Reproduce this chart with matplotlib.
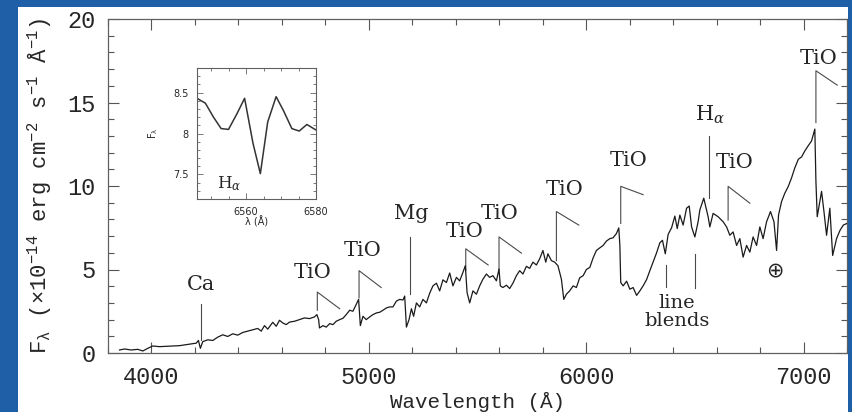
import matplotlib
matplotlib.use("Agg")
import matplotlib.pyplot as plt
from matplotlib.patches import Rectangle
from matplotlib.ticker import MultipleLocator, FuncFormatter

plt.rcParams.update({
    "mathtext.fontset": "custom",
    "mathtext.rm": "Liberation Mono",
    "mathtext.it": "DejaVu Serif:italic",
    "mathtext.sf": "DejaVu Sans",
    "mathtext.default": "regular",
})

# ---------------------------------------------------------------- spectrum
wavelength = [
    3853, 3876, 3907, 3937, 3960, 3983, 4006, 4037, 4068, 4098, 4129, 4160,
    4183, 4206, 4216, 4225, 4236, 4259, 4282, 4305, 4328, 4351, 4374, 4397,
    4420, 4443, 4466, 4489, 4505, 4520, 4535, 4558, 4574, 4589, 4604, 4620,
    4635, 4658, 4681, 4704, 4727, 4750, 4761, 4769, 4773, 4789, 4804, 4820,
    4835, 4850, 4866, 4881, 4896, 4912, 4927, 4942, 4953, 4961, 4973, 4988,
    5004, 5019, 5035, 5050, 5065, 5081, 5096, 5111, 5127, 5142, 5157, 5165,
    5173, 5185, 5196, 5206, 5219, 5234, 5249, 5265, 5280, 5295, 5311, 5326,
    5341, 5357, 5372, 5387, 5403, 5418, 5433, 5444, 5452, 5464, 5479, 5495,
    5510, 5525, 5541, 5556, 5571, 5587, 5599, 5605, 5617, 5633, 5648, 5663,
    5679, 5694, 5709, 5725, 5740, 5755, 5771, 5786, 5801, 5814, 5824, 5840,
    5855, 5870, 5886, 5897, 5909, 5924, 5940, 5955, 5970, 5986, 6001, 6017,
    6032, 6047, 6063, 6078, 6093, 6109, 6124, 6139, 6150, 6155, 6159, 6170,
    6186, 6201, 6216, 6232, 6247, 6262, 6278, 6293, 6308, 6324, 6339, 6351,
    6364, 6377, 6393, 6408, 6419, 6431, 6446, 6462, 6474, 6485, 6500, 6515,
    6523, 6541, 6561, 6569, 6584, 6607, 6630, 6646, 6661, 6676, 6692, 6707,
    6722, 6738, 6753, 6768, 6784, 6799, 6814, 6830, 6848, 6864, 6876, 6885,
    6899, 6914, 6930, 6945, 6960, 6976, 6991, 7006, 7021, 7037, 7052, 7057,
    7063, 7083, 7094, 7106, 7121, 7134, 7152, 7168, 7183, 7200,
]
flux = [
    0.18, 0.24, 0.18, 0.22, 0.12, 0.28, 0.42, 0.38, 0.40, 0.42, 0.44, 0.50,
    0.55, 0.59, 0.75, 0.28, 0.68, 0.79, 0.75, 0.95, 1.09, 0.99, 1.15, 1.07,
    1.23, 1.31, 1.39, 1.47, 1.31, 1.64, 1.43, 1.84, 1.60, 1.96, 1.80, 1.70,
    1.85, 1.90, 2.00, 2.10, 2.06, 2.16, 2.30, 2.00, 1.50, 1.64, 1.55, 1.76,
    1.70, 1.90, 2.00, 2.08, 2.30, 2.56, 2.50, 2.91, 3.21, 1.64, 2.20, 2.00,
    2.16, 2.30, 2.40, 2.44, 2.56, 2.70, 2.76, 2.76, 3.11, 3.21, 3.17, 3.41,
    1.55, 2.00, 2.65, 2.20, 3.00, 2.76, 3.21, 3.00, 3.58, 4.02, 4.18, 3.72,
    4.38, 4.22, 4.79, 4.02, 4.53, 4.32, 4.83, 5.23, 3.62, 3.00, 3.72, 3.52,
    4.02, 4.42, 4.73, 4.53, 4.63, 4.32, 5.03, 4.02, 3.92, 4.06, 3.86, 4.18,
    4.63, 4.93, 4.73, 5.19, 5.07, 5.44, 5.27, 5.64, 6.14, 5.44, 5.94, 5.53,
    5.44, 5.23, 4.42, 3.21, 3.52, 3.72, 4.02, 3.92, 4.50, 4.63, 5.00, 5.13,
    5.70, 6.14, 6.30, 6.44, 6.70, 6.85, 6.90, 7.15, 7.49, 6.44, 4.22, 4.02,
    4.30, 3.82, 3.92, 3.45, 3.72, 4.02, 4.40, 4.93, 5.44, 6.00, 6.60, 6.75,
    5.94, 7.10, 7.50, 8.20, 7.45, 8.26, 7.66, 8.67, 8.80, 7.55, 6.95, 7.86,
    8.57, 9.27, 8.16, 7.55, 8.36, 8.16, 7.86, 7.55, 7.05, 7.25, 6.44, 6.85,
    5.74, 6.44, 6.04, 6.95, 6.44, 7.55, 6.85, 7.86, 8.47, 7.86, 6.14, 8.26,
    9.07, 9.57, 9.98, 10.49, 11.09, 11.60, 11.74, 12.10, 12.40, 12.70, 13.41, 10.28,
    8.16, 9.68, 8.47, 7.05, 8.67, 5.84, 6.85, 7.35, 7.66, 7.76,
]

# ------------------------------------------------------- H-alpha close-up
inset_wavelength = [6546.0, 6548.4, 6550.7, 6552.9, 6555.0, 6557.4, 6559.6, 6562.0,
                    6564.1, 6566.2, 6568.6, 6570.7, 6573.1, 6575.2, 6577.4, 6580.1]
inset_flux = [8.43, 8.37, 8.20, 8.06, 8.05, 8.24, 8.43, 7.88,
              7.51, 8.14, 8.45, 8.28, 8.06, 8.03, 8.11, 8.04]

# ------------------------------------------------------------ line labels
# TiO band heads: (head wavelength, line bottom, line top, slope end wavelength,
#                  slope end flux, label wavelength, label flux)
tio_heads = [
    (4763, 2.56, 3.65, 4866, 2.65, 4743, 4.80),
    (4955, 3.30, 4.93, 5057, 3.92, 4970, 6.14),
    (5446, 4.93, 6.24, 5549, 5.27, 5441, 7.25),
    (5599, 4.99, 6.95, 5702, 5.98, 5602, 8.36),
    (5863, 5.53, 8.47, 5966, 7.66, 5902, 9.78),
    (6159, 7.76, 9.98, 6262, 9.48, 6193, 11.50),
    (6653, 7.96, 9.98, 6753, 8.97, 6684, 11.40),
    (7057, 13.80, 16.90, 7155, 16.04, 7068, 17.65),
]
# Atomic lines: (label, wavelength, line bottom, line top, label wavelength, label flux)
atomic_lines = [
    ("Ca", 4226, 0.79, 2.95, 4228, 4.12),
    ("Mg", 5191, 3.52, 6.95, 5195, 8.35),
    (r"H$_{\mathit{\alpha}}$", 6564, 9.30, 13.00, 6569, 14.25),
]
# Blended features: (wavelength, bottom, top)
blend_marks = [(6367, 3.98, 5.27), (6501, 3.92, 5.94)]
blend_label = (6418, 2.45)
telluric_mark = (6866, 4.95)

# ------------------------------------------------------------------ figure
W, H = 852, 412
fig = plt.figure(figsize=(W / 100, H / 100), dpi=100, facecolor="#1f5fa8")
fig.patches.append(Rectangle((18 / W, 0), 830 / W, 405 / H, transform=fig.transFigure,
                             facecolor="white", edgecolor="none", zorder=-10))

ax = fig.add_axes([108 / W, 1 - 353 / H, 739 / W, 334 / H])
ax.set_facecolor("white")
ink = "#262626"
line_grey = "#4a4a4a"

ax.plot(wavelength, flux, color="#1a1a1a", lw=0.9, zorder=3)
ax.set_xlim(3800, 7200)
ax.set_ylim(0, 20)

ax.xaxis.set_major_locator(MultipleLocator(1000))
ax.xaxis.set_minor_locator(MultipleLocator(200))
ax.yaxis.set_major_locator(MultipleLocator(5))
ax.yaxis.set_minor_locator(MultipleLocator(1))
ax.tick_params(which="both", direction="in", top=True, right=True,
               color="#555555", width=0.8, labelcolor=ink)
ax.tick_params(which="major", length=8, labelsize=17, pad=9)
ax.tick_params(which="minor", length=4.5)
for lab in ax.get_xticklabels() + ax.get_yticklabels():
    lab.set_family("Liberation Mono")
for sp in ax.spines.values():
    sp.set_color("#606060")
    sp.set_linewidth(0.9)

ax.set_xlabel("Wavelength (Å)", family="Liberation Mono", fontsize=15, color=ink, va="center")
ax.xaxis.set_label_coords(0.5, -0.147)
ax.set_ylabel(r"F$_\lambda$ (×10$^{-14}$ erg cm$^{-2}$ s$^{-1}$ Å$^{-1}$)",
              family="Liberation Mono", fontsize=16, color=ink, va="center")
ax.yaxis.set_label_coords(-0.092, 0.5)

for lam, lo, hi, lam_end, f_end, lx, ly in tio_heads:
    ax.plot([lam, lam, lam_end], [lo, hi, f_end], color=line_grey, lw=0.8, zorder=2)
    ax.text(lx, ly, "TiO", ha="center", va="center", fontsize=15,
            family="DejaVu Serif", color=ink)

for name, lam, lo, hi, lx, ly in atomic_lines:
    ax.plot([lam, lam], [lo, hi], color=line_grey, lw=0.8, zorder=2)
    ax.text(lx, ly, name, ha="center", va="center", fontsize=15,
            family="DejaVu Serif", color=ink)

for lam, lo, hi in blend_marks:
    ax.plot([lam, lam], [lo, hi], color=line_grey, lw=0.8, zorder=2)
ax.text(blend_label[0], blend_label[1], "line\nblends", ha="center", va="center",
        fontsize=14, family="DejaVu Serif", color=ink, linespacing=1.0)
ax.text(telluric_mark[0], telluric_mark[1], "⊕", ha="center", va="center",
        fontsize=15, family="DejaVu Sans", color=ink)

# ------------------------------------------------------------------- inset
axi = fig.add_axes([197 / W, 1 - 199 / H, 119 / W, 131 / H])
axi.plot(inset_wavelength, inset_flux, color="#333333", lw=1.1)
axi.set_xlim(6546, 6580)
axi.set_ylim(7.2, 8.8)
axi.xaxis.set_major_locator(MultipleLocator(20))
axi.xaxis.set_minor_locator(MultipleLocator(5))
axi.yaxis.set_major_locator(MultipleLocator(0.5))
axi.yaxis.set_minor_locator(MultipleLocator(0.1))
axi.yaxis.set_major_formatter(FuncFormatter(lambda v, p: f"{v:g}"))
axi.tick_params(which="both", direction="in", top=True, right=True,
                color="#666666", width=0.6, labelcolor=ink)
axi.tick_params(which="major", length=4, labelsize=7, pad=6)
axi.tick_params(which="minor", length=2)
for sp in axi.spines.values():
    sp.set_color("#606060")
    sp.set_linewidth(0.8)
axi.set_xlabel("λ (Å)", fontsize=7, color=ink, va="center")
axi.xaxis.set_label_coords(0.5, -0.176)
axi.set_ylabel(r"F$_\mathsf{\lambda}$", fontsize=7, color=ink, va="center")
axi.yaxis.set_label_coords(-0.37, 0.5)
axi.text(6555.2, 7.39, r"H$_{\mathit{\alpha}}$", ha="center", va="center",
         fontsize=12, family="DejaVu Serif", color=ink)

fig.savefig("out.png", dpi=100, facecolor=fig.get_facecolor())
